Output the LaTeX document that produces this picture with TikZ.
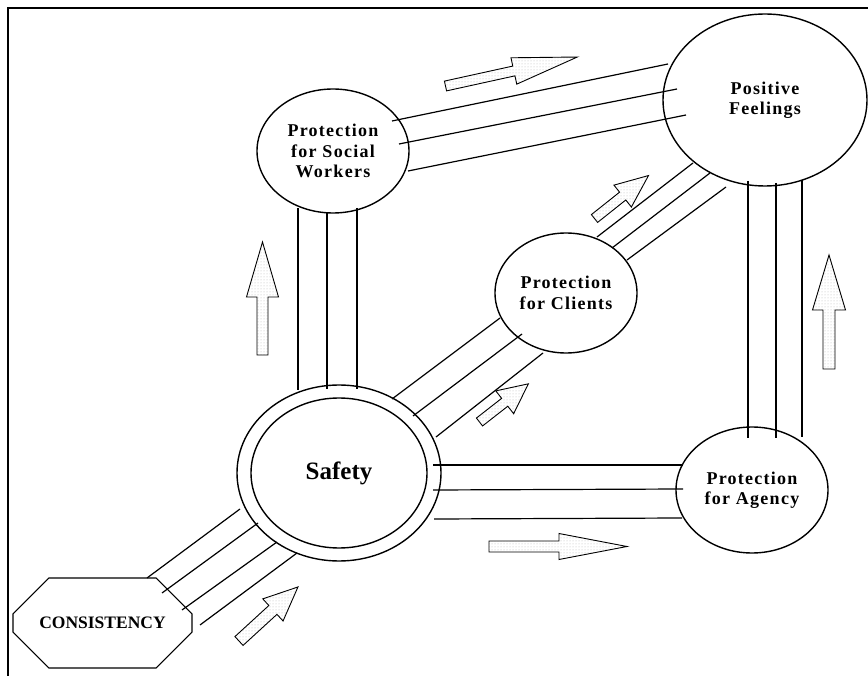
\documentclass[tikz,border=0pt]{standalone}
\usepackage{fontspec}
\setmainfont{Liberation Serif}
\newfontfamily\spacedfont[LetterSpace=7]{Liberation Serif}
\usetikzlibrary{shapes.geometric,shapes.misc,calc,patterns}

% block arrow: #1 tail point, #2 angle, #3 length, #4 head length, #5 half shaft width, #6 half head width
\newcommand{\fatarrow}[6]{%
  \draw[arrowbody, shift={#1}, rotate=#2]
    (0,-#5) -- ({#3-#4},-#5) -- ({#3-#4},-#6) -- (#3,0) -- ({#3-#4},#6) -- ({#3-#4},#5) -- (0,#5) -- cycle;}

\begin{document}
\begin{tikzpicture}[x=1pt,y=-1pt,
  bubble/.style={draw, ellipse, line width=1.4pt, inner sep=0pt, align=center,
    font=\spacedfont\bfseries\fontsize{18}{20.5}\selectfont},
  link/.style={line width=1.2pt},
  arrowbody/.style={draw, line width=0.9pt, preaction={fill=white},
    pattern=dots, pattern color=gray!55},
  frame/.style={line width=1.2pt}]

\useasboundingbox (0,0) rectangle (868,676);

% outer frame
\draw[frame] (8,676) -- (8,8) -- (868,8);

% nodes
\node[bubble, minimum width=204pt, minimum height=172pt] (pf) at (765,100) {Positive\\Feelings};
\node[bubble, minimum width=152pt, minimum height=124pt] (sw) at (333,151) {Protection\\for Social\\Workers};
\node[bubble, minimum width=142pt, minimum height=120pt] (cl) at (566,293) {Protection\\for Clients};
\node[bubble, minimum width=152pt, minimum height=126pt] (ag) at (752,490) {Protection\\for Agency};
\node[draw, ellipse, line width=1.4pt, minimum width=204pt, minimum height=176pt] (safety) at (339,473) {};
\node[draw, ellipse, line width=1.4pt, minimum width=176pt, minimum height=150pt,
  font=\bfseries\fontsize{25}{28}\selectfont] (safetyin) at (339,473) {Safety};
\node[draw, chamfered rectangle, chamfered rectangle xsep=38pt, chamfered rectangle ysep=30pt,
  line width=1.2pt, minimum width=179pt, minimum height=90pt, inner sep=0pt,
  font=\bfseries\fontsize{17.5}{20}\selectfont] (cons) at (102.5,623) {CONSISTENCY};

% Social Workers -> Positive Feelings
\draw[link] ($(sw)+(59,-30)$) -- ($(pf)+(-97,-36)$);
\draw[link] ($(sw)+(66,-7)$) -- ($(pf)+(-88,-11)$);
\draw[link] ($(sw)+(75,20)$) -- ($(pf)+(-79,15)$);

% Safety -> Clients
\draw[link] ($(safety)+(53,-74)$) -- ($(cl)+(-66,25)$);
\draw[link] ($(safety)+(74,-57)$) -- ($(cl)+(-44,41)$);
\draw[link] ($(safety)+(97,-36)$) -- ($(cl)+(-23,60)$);

% Clients -> Positive Feelings
\draw[link] ($(cl)+(31,-56)$) -- ($(pf)+(-72,63)$);
\draw[link] ($(cl)+(46,-45)$) -- ($(pf)+(-55,73)$);
\draw[link] ($(cl)+(61,-33)$) -- ($(pf)+(-39,87)$);

% Positive Feelings -> Agency
\draw[link] ($(pf)+(-17,81)$) -- ($(ag)+(-4,-52)$);
\draw[link] ($(pf)+(11,83)$) -- ($(ag)+(24,-52)$);
\draw[link] ($(pf)+(37,80)$) -- ($(ag)+(50,-53)$);

% Social Workers -> Safety
\draw[link] ($(sw)+(-35,57)$) -- ($(safety)+(-41,-83)$);
\draw[link] ($(sw)+(-6,62)$) -- ($(safety)+(-12,-84)$);
\draw[link] ($(sw)+(24,57)$) -- ($(safety)+(18,-84)$);

% Safety -> Agency
\draw[link] ($(safety)+(94,-8)$) -- ($(ag)+(-69,-25)$);
\draw[link] ($(safety)+(94,17)$) -- ($(ag)+(-69,-1)$);
\draw[link] ($(safety)+(95,46)$) -- ($(ag)+(-70,28)$);

% Consistency -> Safety
\draw[link] ($(cons)+(44.5,-45)$) -- ($(safety)+(-99,36)$);
\draw[link] ($(cons)+(59.5,-30)$) -- ($(safety)+(-81,50)$);
\draw[link] ($(cons)+(79.5,-13)$) -- ($(safety)+(-62,69)$);
\draw[link] ($(cons)+(97.5,2)$) -- ($(safety)+(-42,80)$);

% direction arrows
\fatarrow{(445.5,86)}{12.4}{135}{65}{5}{13.5}
\fatarrow{(594.5,218.5)}{38.5}{69}{33}{5}{14}
\fatarrow{(479.5,422)}{38}{62}{30}{5}{14.5}
\fatarrow{(239,641)}{42.5}{80}{34}{6}{15}
\fatarrow{(489,546.5)}{0}{138}{68}{5.5}{13}
\fatarrow{(262.5,355)}{90}{113}{55}{5.5}{16}
\fatarrow{(829,369)}{90}{114}{55}{6}{16.5}

\end{tikzpicture}
\end{document}
